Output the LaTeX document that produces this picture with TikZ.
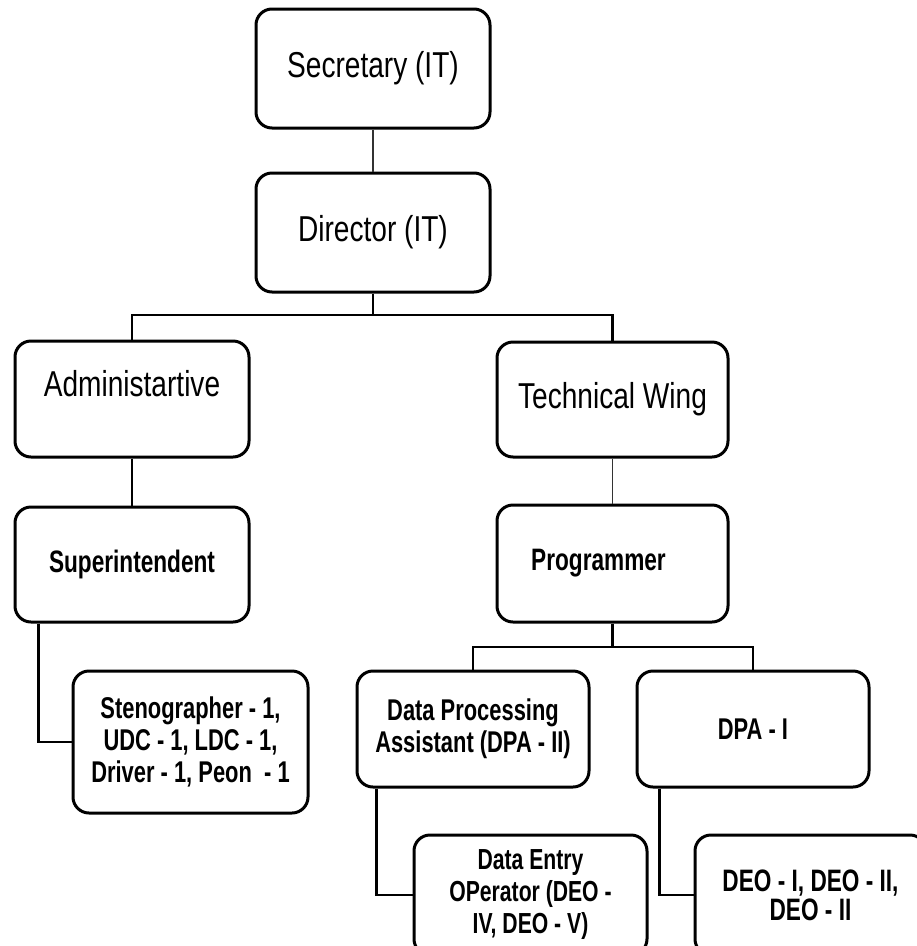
\documentclass[tikz,border=0pt]{standalone}
\usepackage{fontspec}
\setmainfont{Liberation Sans}[FakeStretch=0.78,BoldFeatures={FakeStretch=0.73}]
\begin{document}
\begin{tikzpicture}[x=1pt,y=-1pt,
  box/.style={draw=black,line width=3pt,rounded corners=16pt,inner sep=0pt,align=center,fill=white},
  big/.style={font=\fontsize{36}{40}\selectfont},
  mid/.style={font=\fontsize{31}{34}\selectfont\bfseries},
  small/.style={font=\fontsize{30}{32}\selectfont\bfseries},
  conn/.style={line width=2.6pt,black},
  thinconn/.style={line width=1.8pt,black!80}]
\useasboundingbox (0,0) rectangle (917,946);
\clip (0,0) rectangle (917,946);

\coordinate (bus1) at (373,315);
\coordinate (bus2) at (612.5,647);

% boxes
\node[box,big,minimum width=234pt,minimum height=119pt] (sec) at (373,68.5) {Secretary (IT)};
\node[box,big,minimum width=234pt,minimum height=119pt] (dir) at (373,232.5) {Director (IT)};
\node[box,big,minimum width=234pt,minimum height=116pt] (adm) at (132,399) {\raisebox{15pt}[\height][\depth]{Administartive}};
\node[box,big,minimum width=231pt,minimum height=115pt] (tech) at (612.5,399.5) {Technical Wing};
\node[box,mid,minimum width=234pt,minimum height=115pt] (sup) at (132,564.5) {Superintendent};
\node[box,mid,minimum width=231pt,minimum height=117pt] (prog) at (612.5,563.5) {Programmer\hspace{28pt}};
\node[box,small,minimum width=235pt,minimum height=142pt] (steno) at (190.5,742) {Stenographer - 1,\\UDC - 1, LDC - 1,\\Driver - 1, Peon\ \ - 1};
\node[box,small,minimum width=232pt,minimum height=116pt] (dpa2) at (473,729) {Data Processing\\Assistant (DPA - II)};
\node[box,small,minimum width=232pt,minimum height=116pt] (dpa1) at (753,729) {DPA - I};
\node[box,font=\fontsize{29}{32}\selectfont\bfseries,minimum width=233pt,minimum height=120pt] (deo45) at (530.5,895) {Data Entry\\OPerator (DEO -\\IV, DEO - V)};
\node[box,font=\fontsize{31}{29}\selectfont\bfseries,minimum width=231pt,minimum height=120pt] (deo) at (810.5,895) {DEO - I, DEO - II,\\DEO - II};

% connectors
\draw[thinconn] (sec.south) -- (dir.north);
\draw[conn] (dir.south) -- (bus1);
\draw[conn] (adm.north) |- (bus1) -| (tech.north);
\draw[conn] (adm.south) -- (sup.north);
\draw[thinconn] (tech.south) -- (prog.north);
\draw[conn] ([xshift=25pt]sup.south west) |- (steno.west);
\draw[conn] (prog.south) -- (bus2);
\draw[conn] (dpa2.north) |- (bus2) -| (dpa1.north);
\draw[conn] ([xshift=21pt]dpa2.south west) |- (deo45.west);
\draw[conn] ([xshift=24pt]dpa1.south west) |- (deo.west);
\end{tikzpicture}
\end{document}
